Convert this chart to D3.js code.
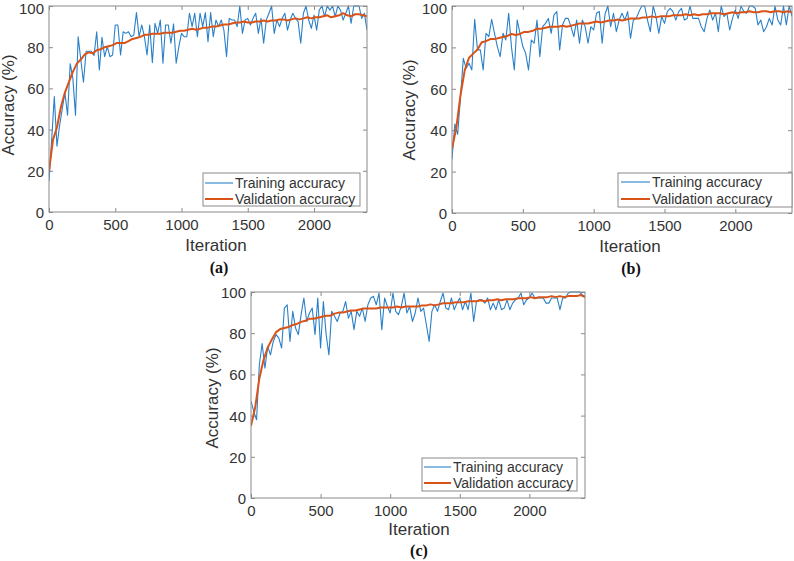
<!DOCTYPE html>
<html>
<head>
<meta charset="utf-8">
<script src="https://cdn.jsdelivr.net/npm/d3@7"></script>
<style>
  html, body { margin: 0; padding: 0; background: #fff; }
  svg { display: block; }
  text { font-family: "Liberation Sans", Arial, Helvetica, sans-serif; }
</style>
</head>
<body>
<svg id="chart" width="794" height="561"></svg>
<script>
// ---------------- DATA ----------------
const trainStep = 20;   // iterations between training-accuracy samples
const valStep = 30;     // iterations between validation-accuracy samples
const xTicks = [0, 500, 1000, 1500, 2000];
const yTicks = [0, 20, 40, 60, 80, 100];
const xMax = 2400;
const seriesNames = ["Training accuracy", "Validation accuracy"];
const xTitle = "Iteration";
const yTitle = "Accuracy (%)";
const panelNames = ["(a)", "(b)", "(c)"];

const trainA = [
  15, 35, 56, 32, 42, 50, 58, 47, 72, 65,
  47, 85, 74, 63, 78, 78, 78, 76, 87.5, 69,
  84.8, 75.4, 80.3, 75.4, 76.2, 90.8, 90.8, 76.2, 87.5, 86.7,
  87.5, 85.1, 85.9, 96.8, 85.1, 90.8, 85.1, 76.2, 90.8, 72.5,
  91.6, 86.7, 93.2, 72.2, 90.8, 90.8, 81.9, 91.3, 72.2, 80.3,
  86.7, 85.1, 85.1, 96.5, 90, 96.5, 85.1, 96.5, 90, 96.8,
  82.7, 96.8, 85.1, 93.2, 90, 93.2, 88.3, 75.4, 94, 93.2,
  93.2, 90, 100, 86.7, 93.2, 94, 90.8, 94, 96.5, 86.7,
  94, 81.9, 93.2, 96.5, 100, 86.7, 93.2, 90, 94, 96.5,
  88.3, 93.2, 96.5, 94, 92.4, 81.9, 96.5, 100, 93.2, 89.1,
  95.6, 88.3, 98, 100, 94.8, 100, 98, 100, 94.8, 100,
  98, 93.2, 96.5, 100, 91.6, 100, 100, 100, 94, 96.5,
  88.3
];
const valA = [
  20, 35, 41, 51, 58, 63, 68, 72, 74, 76.5,
  77.5, 77, 78.5, 79, 80, 80.5, 81, 82, 82, 82,
  83, 84, 84.5, 85, 86, 86, 86.5, 86.5, 86.5, 87,
  87, 87, 87.5, 88, 88, 88.5, 89, 88.5, 89, 89.5,
  89.5, 90, 90, 90.5, 91, 91, 91.5, 92, 92, 92.5,
  92, 92, 92.5, 92.5, 93, 92.5, 93, 93, 93.5, 93.5,
  93, 93.5, 94, 93.5, 94, 94.5, 94, 94.5, 94.5, 95,
  95.5, 94.5, 95, 95.5, 96.5, 95.5, 95, 96, 96, 95.5,
  95
];

const trainB = [
  26, 43, 38, 56, 74.7, 69.9, 72.3, 69.1, 93.6, 78.8,
  78.8, 69.1, 86.8, 85.2, 93.6, 86.8, 80.4, 75.5, 86.8, 83.6,
  96.5, 80, 69.1, 93.2, 86.8, 80.4, 77.1, 69.1, 83.6, 82,
  93.2, 75.5, 90, 91.6, 94, 86.8, 95.7, 97.3, 78.8, 90.8,
  94, 94, 90, 85.2, 93.2, 82, 93.2, 90, 82, 90,
  88.4, 96.5, 97.3, 82, 96, 100, 90, 96.5, 87.6, 93.2,
  96.5, 93.2, 97.3, 84.4, 93.2, 94, 97.3, 100, 100, 93.2,
  87.6, 100, 94.9, 86.8, 94.9, 91.6, 97.3, 98.9, 97.3, 93.2,
  97.3, 98.9, 93.2, 94, 100, 94, 94, 94, 90, 87.6,
  94, 98.1, 93.2, 96.5, 87.6, 100, 94.9, 96.5, 88.4, 94,
  98.1, 94, 100, 97.3, 96.5, 100, 100, 98.9, 90.8, 93.2,
  87.6, 90, 94, 90.8, 100, 93.2, 90.8, 100, 90.8, 100,
  95
];
const valB = [
  31, 41, 57, 69, 75, 77, 79, 82.5, 83, 84,
  84, 84.5, 85, 85.5, 86.5, 86, 86.5, 87.5, 87.5, 88,
  89, 89, 89.5, 90, 90, 90, 90.5, 90, 90.5, 91,
  91.5, 91.5, 91.5, 92, 92.5, 92, 92.5, 93, 93, 93.5,
  93, 93.5, 94, 94, 94, 94.5, 94.5, 95, 94.5, 95,
  95, 95, 95.5, 95.5, 95.5, 96, 95.5, 96, 95.5, 96,
  96, 96.5, 96.5, 96.5, 96, 96.5, 97, 96.5, 97, 97,
  97.5, 97, 97, 97.5, 97.5, 97, 97.5, 97.5, 97, 97.5,
  97
];

const trainC = [
  47, 42, 38, 64.7, 75, 63, 73.6, 69.5, 76, 79.3,
  77.6, 72.8, 92.2, 93.8, 76, 90.6, 82.5, 79.3, 89, 97.1,
  85.7, 89.8, 92.2, 79.3, 97.1, 72.8, 95.4, 79.3, 69.5, 90.6,
  88.2, 85.7, 89.8, 90.6, 95.4, 87.3, 90.6, 81.7, 90.6, 88.2,
  92.2, 85.7, 93.8, 97.1, 97.9, 93.8, 99.5, 81.7, 97.1, 93,
  89.8, 99.5, 90.6, 89, 93, 99.5, 89.8, 93, 85.7, 89.8,
  97.1, 90.6, 92.2, 84.1, 76, 90.6, 93.8, 90.6, 95.4, 99.5,
  92.2, 91.4, 97.1, 91.4, 94.6, 97.1, 91.4, 95.4, 91.4, 99.5,
  85.7, 95.4, 96.2, 96.2, 94.6, 97.1, 91.4, 94.6, 91.4, 96.2,
  91.4, 92.2, 96.2, 91.4, 94.6, 96.2, 97.1, 99.5, 93.8, 96.2,
  97.1, 99.5, 97.1, 97.1, 97.1, 97.1, 94.6, 94.6, 97.1, 97.1,
  97.1, 91.4, 97.1, 97.1, 99.5, 100, 100, 100, 100, 98.7,
  97.9
];
const valC = [
  35, 44, 58, 67, 73, 77, 80.5, 82, 82.5, 83,
  84, 84.5, 85.5, 86, 87, 87, 87.5, 88, 88.5, 88.5,
  89.5, 90, 90, 90.5, 91, 91, 91.5, 92, 92, 92,
  92, 92.5, 92.5, 92.5, 92.5, 93, 92.5, 93, 93, 93,
  93, 93.5, 93.5, 94, 93.5, 94, 94.5, 94.5, 94.5, 95,
  95, 95, 95.5, 95.5, 95.5, 96, 95.5, 96, 96, 96.5,
  96, 96.5, 96.5, 96.5, 97, 97, 97, 97.5, 97, 97.5,
  97.5, 97.5, 98, 97.5, 98, 97.5, 98, 98, 98, 98.5,
  97.5
];

// ---------------- LAYOUT ----------------
const panels = [
  { train: trainA, val: valA, name: panelNames[0],
    L: 49, R: 367, T: 6, B: 212,
    xLab: [216, 251], yLab: [14, 105], cap: [219, 273],
    leg: { x: 203, y: 173, w: 157, h: 33, lineX: 205, lineW: 28, r1: 183, r2: 199 } },
  { train: trainB, val: valB, name: panelNames[1],
    L: 452, R: 792, T: 6, B: 213,
    xLab: [630, 252], yLab: [415, 110], cap: [631, 274],
    leg: { x: 618, y: 173, w: 174, h: 34, lineX: 621, lineW: 29, r1: 182, r2: 199 } },
  { train: trainC, val: valC, name: panelNames[2],
    L: 251, R: 585, T: 292, B: 498,
    xLab: [419, 535], yLab: [218, 398], cap: [419, 556],
    leg: { x: 422, y: 458, w: 155, h: 33, lineX: 424, lineW: 27, r1: 467, r2: 483 } }
];

const boxColor = "#8a8a8a";
const textColor = "#333333";
const blue = "#2a80c8";
const orange = "#d95319";
const tickFont = 15;
const fmt = d3.format("d");

const svg = d3.select("#chart");
svg.append("rect").attr("width", 794).attr("height", 561).attr("fill", "#fff");

panels.forEach((p, pi) => {
  const x = d3.scaleLinear().domain([0, xMax]).range([p.L, p.R]);
  const y = d3.scaleLinear().domain([0, 100]).range([p.B, p.T]);
  const g = svg.append("g");

  const clipId = "clip" + pi;
  svg.append("clipPath").attr("id", clipId)
    .append("rect").attr("x", p.L).attr("y", p.T - 1)
    .attr("width", p.R - p.L).attr("height", p.B - p.T + 1);

  const styleAxis = (sel) => {
    sel.select(".domain").remove();
    sel.selectAll(".tick line").attr("stroke", boxColor).attr("stroke-width", 1);
    sel.selectAll(".tick text").attr("fill", textColor)
      .style("font-size", tickFont + "px")
      .style("font-family", '"Liberation Sans", Arial, sans-serif');
  };
  g.append("g").attr("transform", `translate(0,${p.B})`)
    .call(d3.axisBottom(x).tickValues(xTicks).tickFormat(fmt)
      .tickSizeInner(-4).tickSizeOuter(0).tickPadding(7))
    .call(styleAxis);
  g.append("g").attr("transform", `translate(0,${p.T})`)
    .call(d3.axisTop(x).tickValues(xTicks).tickSizeInner(-4).tickSizeOuter(0).tickFormat(""))
    .call(styleAxis);
  g.append("g").attr("transform", `translate(${p.L},0)`)
    .call(d3.axisLeft(y).tickValues(yTicks).tickFormat(fmt)
      .tickSizeInner(-4).tickSizeOuter(0).tickPadding(5))
    .call(styleAxis)
    .call(sel => sel.selectAll(".tick text")
      .attr("dy", "0.36em")
      // keep the topmost label inside the page when the panel touches the top edge
      .attr("y", d => (y(d) < 10 ? 2.5 : 0)));
  g.append("g").attr("transform", `translate(${p.R},0)`)
    .call(d3.axisRight(y).tickValues(yTicks).tickSizeInner(-4).tickSizeOuter(0).tickFormat(""))
    .call(styleAxis);

  const trainLine = d3.line().x((d, i) => x(i * trainStep)).y(d => y(d));
  const valLine = d3.line().x((d, i) => x(i * valStep)).y(d => y(d));
  const lg = g.append("g").attr("clip-path", `url(#${clipId})`);
  lg.append("path").datum(p.train).attr("d", trainLine)
    .attr("fill", "none").attr("stroke", blue).attr("stroke-width", 1.1)
    .attr("stroke-linejoin", "round");
  lg.append("path").datum(p.val).attr("d", valLine)
    .attr("fill", "none").attr("stroke", orange).attr("stroke-width", 2)
    .attr("stroke-linejoin", "round");

  g.append("rect").attr("x", p.L).attr("y", p.T)
    .attr("width", p.R - p.L).attr("height", p.B - p.T)
    .attr("fill", "none").attr("stroke", boxColor).attr("stroke-width", 1);

  const lgd = g.append("g");
  lgd.append("rect").attr("x", p.leg.x).attr("y", p.leg.y)
    .attr("width", p.leg.w).attr("height", p.leg.h)
    .attr("fill", "#fff").attr("stroke", boxColor).attr("stroke-width", 1);
  [[p.leg.r1, blue, 1.1, seriesNames[0]], [p.leg.r2, orange, 2, seriesNames[1]]].forEach(([ry, c, w, t]) => {
    lgd.append("line").attr("x1", p.leg.lineX).attr("x2", p.leg.lineX + p.leg.lineW)
      .attr("y1", ry).attr("y2", ry).attr("stroke", c).attr("stroke-width", w);
    lgd.append("text").attr("x", p.leg.lineX + p.leg.lineW + 2).attr("y", ry + 5)
      .attr("fill", textColor).style("font-size", "14px").text(t);
  });

  g.append("text").attr("x", p.xLab[0]).attr("y", p.xLab[1])
    .attr("text-anchor", "middle").attr("fill", textColor)
    .style("font-size", "17px").text(xTitle);
  g.append("text").attr("transform", `translate(${p.yLab[0]},${p.yLab[1]}) rotate(-90)`)
    .attr("text-anchor", "middle").attr("fill", textColor)
    .style("font-size", "17px").text(yTitle);

  g.append("text").attr("x", p.cap[0]).attr("y", p.cap[1])
    .attr("text-anchor", "middle").attr("fill", "#111")
    .style("font-family", '"Liberation Serif", "Times New Roman", serif')
    .style("font-weight", "bold").style("font-size", "16px").text(p.name);
});
</script>
</body>
</html>
